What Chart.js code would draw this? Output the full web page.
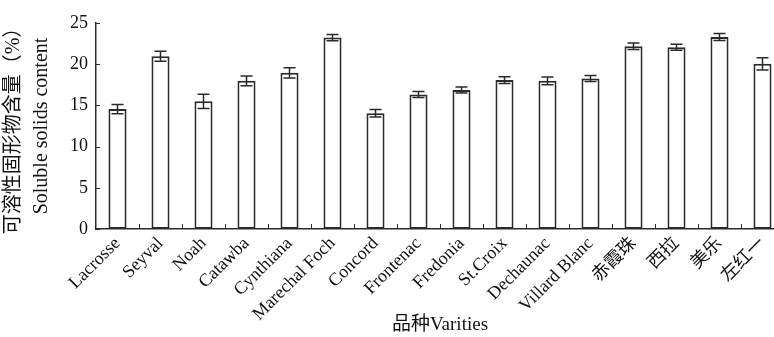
<!DOCTYPE html>
<html>
<head>
<meta charset="utf-8">
<script src="https://cdn.jsdelivr.net/npm/chart.js@4.4.1/dist/chart.umd.min.js"></script>
<style>
  html, body { margin: 0; padding: 0; background: #fff; overflow: hidden; }
  #wrap { width: 774px; height: 337px; overflow: hidden; }
</style>
</head>
<body>
<div id="wrap"><canvas id="myChart" width="786" height="337"></canvas></div>
<script>
// data
const varieties = ['Lacrosse', 'Seyval', 'Noah', 'Catawba', 'Cynthiana', 'Marechal Foch', 'Concord',
  'Frontenac', 'Fredonia', 'St.Croix', 'Dechaunac', 'Villard Blanc', '赤霞珠', '西拉', '美乐', '左红一'];
const solids = [14.55, 20.97, 15.49, 17.98, 18.95, 23.23, 14.04, 16.33, 16.86, 18.07, 17.98, 18.27, 22.18, 22.06, 23.31, 20.04];
const errors = [0.57, 0.6, 0.87, 0.6, 0.63, 0.38, 0.45, 0.36, 0.36, 0.4, 0.46, 0.36, 0.4, 0.36, 0.42, 0.75];
const yTicks = [0, 5, 10, 15, 20, 25];

const ink = '#2b2b2b';
const serif = '"Liberation Serif", "Noto Sans CJK SC", serif';

// whiskers on top of the bars
const errorBars = {
  id: 'errorBars',
  afterDatasetsDraw(chart) {
    const ctx = chart.ctx;
    const y = chart.scales.y;
    const meta = chart.getDatasetMeta(0);
    ctx.save();
    ctx.strokeStyle = ink;
    ctx.lineWidth = 1.5;
    meta.data.forEach(function(bar, i) {
      const top = y.getPixelForValue(solids[i] + errors[i]);
      const bot = y.getPixelForValue(solids[i] - errors[i]);
      ctx.beginPath();
      ctx.moveTo(bar.x, top); ctx.lineTo(bar.x, bot);
      ctx.moveTo(bar.x - 6, top); ctx.lineTo(bar.x + 6, top);
      ctx.moveTo(bar.x - 6, bot); ctx.lineTo(bar.x + 6, bot);
      ctx.stroke();
    });
    ctx.restore();
  }
};

// tick marks pointing into the plot
const innerTicks = {
  id: 'innerTicks',
  afterDraw(chart) {
    const ctx = chart.ctx;
    const x = chart.scales.x, y = chart.scales.y;
    const area = chart.chartArea;
    ctx.save();
    ctx.strokeStyle = ink;
    ctx.lineWidth = 1;
    ctx.beginPath();
    yTicks.forEach(function(v) {
      const py = Math.round(y.getPixelForValue(v)) + 0.5;
      ctx.moveTo(area.left, py); ctx.lineTo(area.left + 4, py);
    });
    for (let i = 0; i < varieties.length - 1; i++) {
      const px = Math.round((x.getPixelForValue(i) + x.getPixelForValue(i + 1)) / 2) + 0.5;
      ctx.moveTo(px, area.bottom); ctx.lineTo(px, area.bottom - 5);
    }
    ctx.stroke();
    ctx.restore();
  }
};

const ctx = document.getElementById('myChart');
new Chart(ctx, {
  type: 'bar',
  data: {
    labels: varieties,
    datasets: [{
      data: solids,
      backgroundColor: '#ffffff',
      borderColor: ink,
      borderWidth: 2,
      borderSkipped: false,
      barPercentage: 0.42,
      categoryPercentage: 1
    }]
  },
  options: {
    responsive: false,
    animation: false,
    layout: { padding: { top: 23, left: 0, right: 2, bottom: 0 } },
    plugins: { legend: { display: false }, tooltip: { enabled: false } },
    scales: {
      x: {
        grid: { display: false, drawTicks: false },
        border: { color: ink, width: 1.5 },
        ticks: {
          color: '#111', font: { family: serif, size: 18 },
          maxRotation: 45, minRotation: 45, padding: 4, autoSkip: false
        },
        title: {
          display: true, text: '品种Varities', color: '#111',
          font: { family: serif, size: 19 }, padding: { top: 0, bottom: 1 }
        },
        afterFit: function(scale) { scale.height = 108; }
      },
      y: {
        min: 0, max: 25,
        grid: { display: false, drawTicks: false },
        border: { color: ink, width: 1.5 },
        ticks: {
          stepSize: 5, color: '#111', font: { family: serif, size: 18 }, padding: 8
        },
        title: {
          display: true, text: ['可溶性固形物含量（%）', 'Soluble solids content'], color: '#111',
          font: { family: serif, size: 20, lineHeight: 1.4 }, padding: { top: 0, bottom: 0 }
        },
        afterFit: function(scale) { scale.width = 96; }
      }
    }
  },
  plugins: [errorBars, innerTicks]
});
</script>
</body>
</html>
